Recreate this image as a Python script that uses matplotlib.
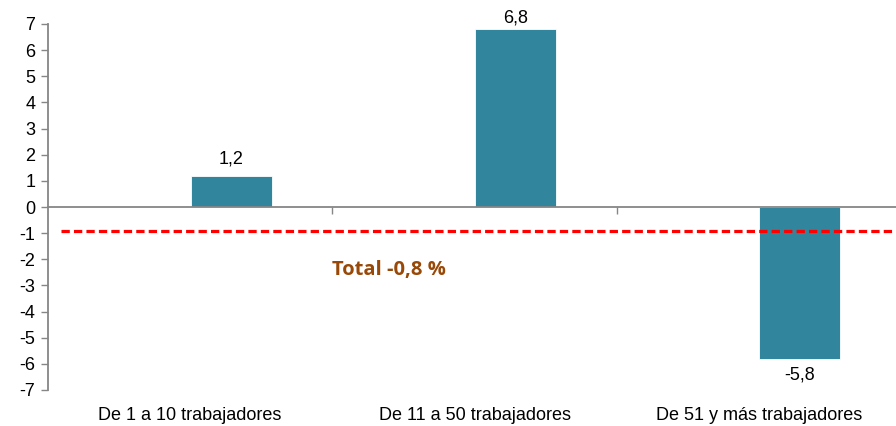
import matplotlib
matplotlib.use('Agg')
from matplotlib import pyplot as plt
from matplotlib import font_manager as fm
import numpy as np

# data
categorias = ['De 1 a 10 trabajadores', 'De 11 a 50 trabajadores', 'De 51 y más trabajadores']
valores = [1.2, 6.8, -5.8]
etiquetas = ['1,2', '6,8', '-5,8']
total = -0.93
total_txt = 'Total -0,8 %'

nombres = set(f.name for f in fm.fontManager.ttflist)
fuente = 'Liberation Sans Narrow' if 'Liberation Sans Narrow' in nombres else 'Liberation Sans'
plt.rcParams['font.family'] = [fuente, 'DejaVu Sans']

gris = '#868686'
azul = '#31859C'

fig = plt.figure(figsize=(8.96, 4.26), dpi=100)
# plot area runs a little past the right edge, as in the original
ax = fig.add_axes([48/896, 36/426, 853/896, 366/426])

x = np.arange(len(categorias))
offset = 0.144
ax.bar(x + offset, valores, width=0.285, color=azul, edgecolor='white', linewidth=0.6, zorder=2)

for xi, v, t in zip(x, valores, etiquetas):
    if v >= 0:
        ax.text(xi + offset, min(v + 0.3, 6.9), t, ha='center', va='bottom', fontsize=13, color='black')
    else:
        ax.text(xi + offset, v - 0.3, t, ha='center', va='top', fontsize=13, color='black')

ax.axhline(total, xmin=13/853, xmax=1, color='red', lw=2.3, linestyle=(0, (2.6, 1.3)), zorder=3)
ax.text(0.7, -2.4, total_txt, ha='center', va='center', fontsize=14.5, fontweight='bold',
        color='#984807', family=['Open Sans', 'DejaVu Sans'])

ax.set_xlim(-0.5, 2.5)
ax.set_ylim(-7, 7)
ax.set_yticks(range(-7, 8))
ax.set_yticklabels([str(i) for i in range(-7, 8)], fontsize=13)

# category boundaries as x ticks on the zero line
ax.set_xticks([0.5, 1.5])
ax.set_xticklabels([])
ax.tick_params(axis='x', direction='out', length=5, color=gris, width=1)
ax.tick_params(axis='y', direction='out', length=5, color=gris, width=1, pad=4)
for xi, c in zip(x, categorias):
    ax.text(xi, -7.65, c, ha='center', va='top', fontsize=13, color='black')

for s in ['top', 'right']:
    ax.spines[s].set_visible(False)
ax.spines['left'].set_color(gris)
ax.spines['bottom'].set_color(gris)
ax.spines['bottom'].set_position(('data', 0))
ax.spines['left'].set_linewidth(1.3)
ax.spines['bottom'].set_linewidth(1.3)

fig.savefig('out.png', dpi=100)
